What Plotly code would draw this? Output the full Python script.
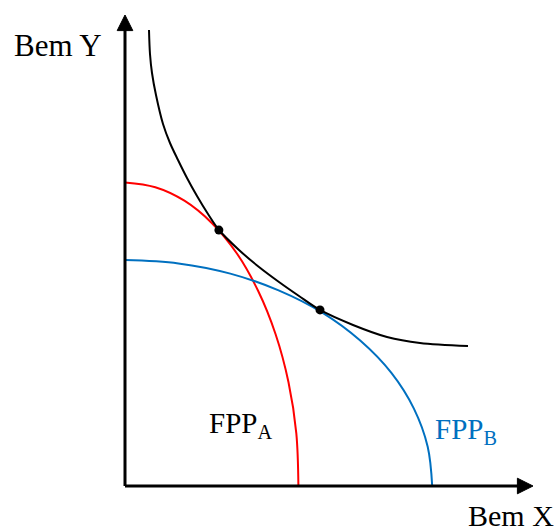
import plotly.graph_objects as go

# Production possibility frontier A (red)
fpp_a_x = [0, 1.01, 1.98, 2.90, 3.73, 4.44, 5.02, 5.45, 5.71, 5.78]
fpp_a_y = [10.12, 9.96, 9.51, 8.76, 7.75, 6.50, 5.06, 3.46, 1.76, 0]

# Production possibility frontier B (blue)
fpp_b_x = [0, 1.78, 3.51, 5.12, 6.59, 7.85, 8.88, 9.63, 10.09, 10.24]
fpp_b_y = [7.53, 7.42, 7.08, 6.52, 5.77, 4.84, 3.77, 2.58, 1.31, 0]

# Envelope curve (black)
curve_x = [0.800, 0.833, 0.900, 1.033, 1.267, 1.500, 1.767, 2.067, 2.400, 2.767,
           3.133, 3.800, 4.467, 5.133, 5.800, 6.500, 7.600, 8.733, 9.833, 11.433]
curve_y = [15.200, 14.400, 13.767, 13.033, 12.067, 11.433, 10.867, 10.267, 9.667, 9.067,
           8.533, 7.867, 7.300, 6.800, 6.333, 5.867, 5.367, 4.967, 4.767, 4.667]

# Tangency points
tan_x = [3.13, 6.50]
tan_y = [8.53, 5.87]

# Axis extents
x_axis_max = 13.6
y_axis_max = 15.7

RED = "#FF0000"
BLUE = "#0070C0"
FONT = "Liberation Serif"

fig = go.Figure()

fig.add_trace(go.Scatter(x=fpp_a_x, y=fpp_a_y, mode="lines",
                         line=dict(color=RED, width=2, shape="spline"), hoverinfo="skip"))
fig.add_trace(go.Scatter(x=fpp_b_x, y=fpp_b_y, mode="lines",
                         line=dict(color=BLUE, width=2, shape="spline"), hoverinfo="skip"))
fig.add_trace(go.Scatter(x=curve_x, y=curve_y, mode="lines",
                         line=dict(color="black", width=2, shape="spline", smoothing=0.9),
                         hoverinfo="skip"))
fig.add_trace(go.Scatter(x=tan_x, y=tan_y, mode="markers",
                         marker=dict(color="black", size=9), hoverinfo="skip"))

# Axes lines
fig.add_shape(type="line", x0=0, y0=0, x1=0, y1=y_axis_max - 0.4,
              line=dict(color="black", width=3))
fig.add_shape(type="line", x0=0, y0=0, x1=x_axis_max - 0.4, y1=0,
              line=dict(color="black", width=3))
# Arrowheads
ah_len = 0.52
ah_half = 0.26
fig.add_shape(type="path",
              path=f"M {-ah_half} {y_axis_max - ah_len} L 0 {y_axis_max} L {ah_half} {y_axis_max - ah_len} Z",
              fillcolor="black", line=dict(color="black", width=1))
fig.add_shape(type="path",
              path=f"M {x_axis_max - ah_len} {-ah_half} L {x_axis_max} 0 L {x_axis_max - ah_len} {ah_half} Z",
              fillcolor="black", line=dict(color="black", width=1))

# Labels
fig.add_annotation(x=-2.25, y=14.7, text="Bem Y", showarrow=False,
                   font=dict(family=FONT, size=31, color="black"), xanchor="center", yanchor="middle")
fig.add_annotation(x=12.85, y=-0.98, text="Bem X", showarrow=False,
                   font=dict(family=FONT, size=30, color="black"), xanchor="center", yanchor="middle")
fig.add_annotation(x=2.72, y=2.02, text="FPP<sub>A</sub>", showarrow=False,
                   font=dict(family=FONT, size=29, color="black"), xanchor="left", yanchor="middle")
fig.add_annotation(x=10.27, y=1.82, text="FPP<sub>B</sub>", showarrow=False,
                   font=dict(family=FONT, size=29, color=BLUE), xanchor="left", yanchor="middle")

fig.update_layout(
    width=560, height=531,
    margin=dict(l=0, r=0, t=0, b=0),
    paper_bgcolor="white", plot_bgcolor="white",
    showlegend=False,
    xaxis=dict(range=[-125 / 30, 435 / 30], visible=False, fixedrange=True),
    yaxis=dict(range=[-45 / 30, 486 / 30], visible=False, fixedrange=True),
)

fig.write_html("out.html", config={"displayModeBar": False},
               post_script="document.body.style.margin='0px';")
